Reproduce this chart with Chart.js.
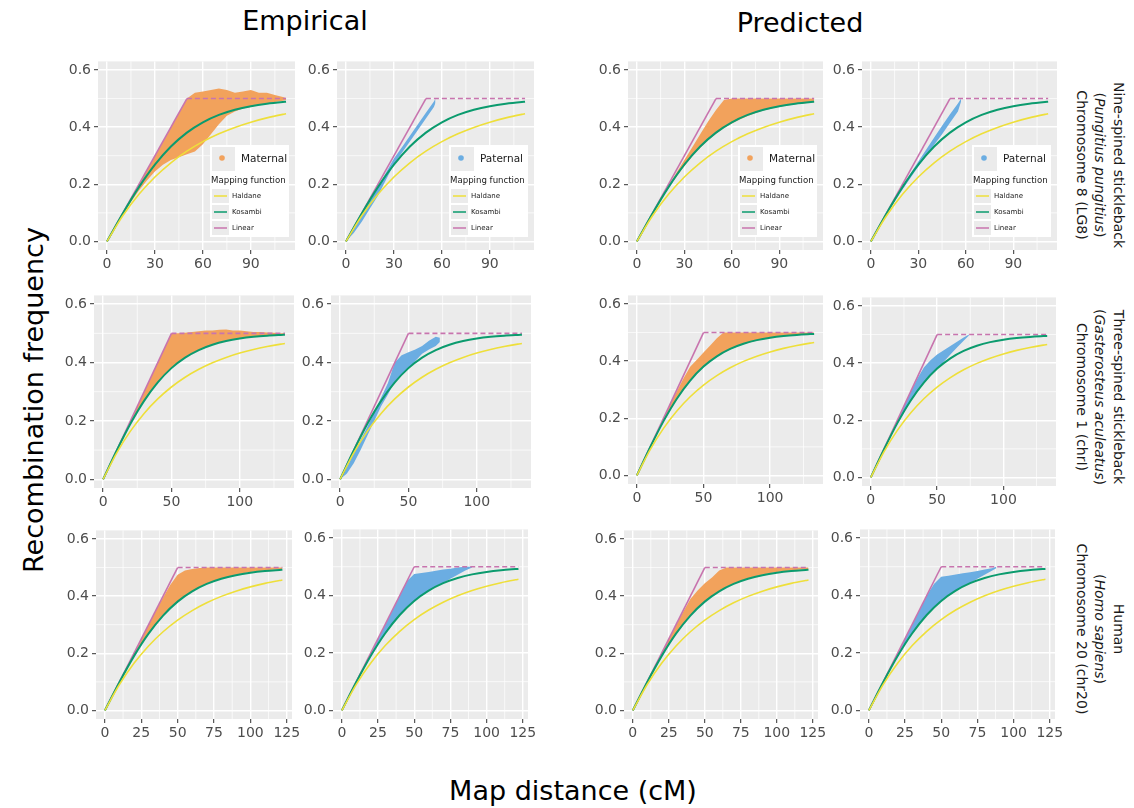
<!DOCTYPE html>
<html>
<head>
<meta charset="utf-8">
<script src="https://cdn.jsdelivr.net/npm/chart.js@4.4.1/dist/chart.umd.min.js"></script>
<style>
  body { margin: 0; width: 1134px; height: 808px; background: #fff; position: relative; overflow: hidden; font-family: "DejaVu Sans", sans-serif; color: #000; }
  .lab { position: absolute; transform: translate(-50%, -50%); white-space: nowrap; }
  .big { font-size: 27px; }
  .strip { position: absolute; transform: translate(-50%, -50%) rotate(90deg); text-align: center; white-space: nowrap; font-size: 14px; line-height: 18.5px; color: #1a1a1a; }
</style>
</head>
<body>
<div class="lab big" style="left:305px;top:20px;">Empirical</div>
<div class="lab big" style="left:800px;top:22px;">Predicted</div>
<div class="lab big" style="left:33px;top:400px;transform:translate(-50%,-50%) rotate(-90deg);">Recombination frequency</div>
<div class="lab big" style="left:573px;top:790px;">Map distance (cM)</div>
<div class="strip" style="left:1100px;top:165px;">Nine-spined stickleback<br>(<i>Pungitius pungitius</i>)<br>Chromosome 8 (LG8)</div>
<div class="strip" style="left:1100px;top:397px;">Three-spined stickleback<br>(<i>Gasterosteus aculeatus</i>)<br>Chromosome 1 (chrI)</div>
<div class="strip" style="left:1100px;top:629px;">Human<br>(<i>Homo sapiens</i>)<br>Chromosome 20 (chr20)</div>
<script>
// mapping functions (cM -> recombination frequency)
const cmRow1 = [0, 10, 20, 30, 40, 50, 60, 70, 80, 90, 100, 110, 112];
const haldaneRow1 = [0, 0.0906, 0.1648, 0.2256, 0.2753, 0.3161, 0.3494, 0.3767, 0.3991, 0.4174, 0.4323, 0.4446, 0.4468];
const kosambiRow1 = [0, 0.0987, 0.1900, 0.2685, 0.3320, 0.3808, 0.4168, 0.4427, 0.4608, 0.4734, 0.4820, 0.4879, 0.4888];
const cmRow2 = [0, 10, 20, 30, 40, 50, 60, 70, 80, 90, 100, 110, 120, 130, 133];
const haldaneRow2 = [0, 0.0906, 0.1648, 0.2256, 0.2753, 0.3161, 0.3494, 0.3767, 0.3991, 0.4174, 0.4323, 0.4446, 0.4546, 0.4629, 0.4650];
const kosambiRow2 = [0, 0.0987, 0.1900, 0.2685, 0.3320, 0.3808, 0.4168, 0.4427, 0.4608, 0.4734, 0.4820, 0.4879, 0.4918, 0.4945, 0.4952];
const cmRow3 = [0, 10, 20, 30, 40, 50, 60, 70, 80, 90, 100, 110, 120, 122];
const haldaneRow3 = [0, 0.0906, 0.1648, 0.2256, 0.2753, 0.3161, 0.3494, 0.3767, 0.3991, 0.4174, 0.4323, 0.4446, 0.4546, 0.4564];
const kosambiRow3 = [0, 0.0987, 0.1900, 0.2685, 0.3320, 0.3808, 0.4168, 0.4427, 0.4608, 0.4734, 0.4820, 0.4879, 0.4918, 0.4925];
const linearCmRow1 = [0, 50, 112];
const linearCmRow2 = [0, 50, 133];
const linearCmRow3 = [0, 50, 122];
const linearRf = [0, 0.5, 0.5];

// ticks
const xTicksRow1 = [0, 30, 60, 90];
const xMinorRow1 = [15, 45, 75, 105];
const xTicksRow2 = [0, 50, 100];
const xMinorRow2 = [25, 75, 125];
const xTicksRow3 = [0, 25, 50, 75, 100, 125];
const xMinorRow3 = [12.5, 37.5, 62.5, 87.5, 112.5];
const yTicks = [0, 0.2, 0.4, 0.6];
const yMinor = [0.1, 0.3, 0.5];

// observed clouds: lower / upper envelope of the individual curves
// nine-spined, empirical maternal
const nineEmpMatCm = [0, 5, 10, 15, 20, 25, 30, 35, 40, 45, 50, 55, 60, 65, 70, 75, 80, 85, 90, 95, 100, 105, 110, 112];
const nineEmpMatLo = [0, 0.047, 0.093, 0.138, 0.178, 0.213, 0.245, 0.268, 0.285, 0.295, 0.305, 0.315, 0.34, 0.375, 0.41, 0.44, 0.455, 0.465, 0.47, 0.478, 0.483, 0.488, 0.492, 0.495];
const nineEmpMatHi = [0, 0.05, 0.1, 0.15, 0.2, 0.25, 0.3, 0.35, 0.4, 0.45, 0.5, 0.52, 0.525, 0.53, 0.535, 0.53, 0.52, 0.525, 0.53, 0.52, 0.52, 0.512, 0.505, 0.502];
// nine-spined, empirical paternal
const nineEmpPatCm = [0, 5, 10, 15, 20, 25, 30, 35, 40, 45, 50, 55, 56];
const nineEmpPatLo = [0, 0.03, 0.07, 0.115, 0.16, 0.215, 0.27, 0.31, 0.35, 0.39, 0.43, 0.47, 0.485];
const nineEmpPatHi = [0, 0.05, 0.095, 0.14, 0.19, 0.24, 0.29, 0.33, 0.37, 0.41, 0.45, 0.49, 0.5];
// nine-spined, predicted maternal
const ninePreMatCm = [0, 5, 10, 15, 20, 25, 30, 35, 40, 45, 50, 55, 60, 65, 70, 75, 80, 85, 90, 95, 100, 105, 110, 112];
const ninePreMatLo = [0, 0.048, 0.097, 0.143, 0.186, 0.227, 0.264, 0.298, 0.328, 0.354, 0.377, 0.397, 0.413, 0.427, 0.439, 0.449, 0.458, 0.465, 0.471, 0.476, 0.48, 0.483, 0.486, 0.487];
const ninePreMatHi = [0, 0.05, 0.1, 0.15, 0.195, 0.24, 0.285, 0.33, 0.375, 0.42, 0.46, 0.495, 0.5, 0.5, 0.5, 0.5, 0.5, 0.5, 0.5, 0.5, 0.5, 0.5, 0.5, 0.5];
// nine-spined, predicted paternal
const ninePrePatCm = [0, 5, 10, 15, 20, 25, 30, 35, 40, 45, 50, 55, 57];
const ninePrePatLo = [0, 0.048, 0.095, 0.14, 0.182, 0.222, 0.262, 0.3, 0.338, 0.375, 0.415, 0.455, 0.49];
const ninePrePatHi = [0, 0.05, 0.1, 0.147, 0.193, 0.237, 0.28, 0.322, 0.364, 0.405, 0.445, 0.483, 0.5];
// three-spined, empirical maternal
const threeEmpMatCm = [0, 5, 10, 15, 20, 25, 30, 35, 40, 45, 50, 55, 60, 65, 70, 75, 80, 85, 90, 95, 100, 105, 110, 115, 120, 125, 130, 133];
const threeEmpMatLo = [0, 0.0498, 0.0987, 0.1457, 0.19, 0.2311, 0.2685, 0.3022, 0.332, 0.3582, 0.3808, 0.4002, 0.4168, 0.4309, 0.4427, 0.4526, 0.4608, 0.4677, 0.4734, 0.4781, 0.482, 0.4852, 0.4879, 0.4901, 0.4918, 0.4933, 0.4945, 0.4952];
const threeEmpMatHi = [0, 0.05, 0.1, 0.15, 0.2, 0.25, 0.3, 0.35, 0.4, 0.45, 0.5, 0.5, 0.502, 0.505, 0.507, 0.51, 0.51, 0.512, 0.513, 0.51, 0.51, 0.507, 0.505, 0.505, 0.503, 0.502, 0.5, 0.5];
// three-spined, empirical paternal
const threeEmpPatCm = [0, 5, 10, 15, 20, 25, 30, 35, 40, 45, 50, 55, 60, 65, 70, 73];
const threeEmpPatLo = [0, 0.02, 0.055, 0.1, 0.15, 0.2, 0.25, 0.29, 0.335, 0.36, 0.378, 0.405, 0.43, 0.445, 0.457, 0.47];
const threeEmpPatHi = [0, 0.04, 0.09, 0.135, 0.18, 0.23, 0.28, 0.33, 0.4, 0.425, 0.435, 0.445, 0.457, 0.475, 0.488, 0.485];
// three-spined, predicted maternal
const threePreMatCm = [0, 5, 10, 15, 20, 25, 30, 35, 40, 45, 50, 55, 60, 65, 70, 75, 80, 85, 90, 95, 100, 105, 110, 115, 120, 125, 130, 133];
const threePreMatLo = [0, 0.049, 0.097, 0.144, 0.188, 0.229, 0.266, 0.3, 0.33, 0.356, 0.379, 0.399, 0.415, 0.429, 0.441, 0.451, 0.459, 0.466, 0.472, 0.477, 0.481, 0.484, 0.487, 0.489, 0.491, 0.492, 0.494, 0.495];
const threePreMatHi = [0, 0.05, 0.1, 0.15, 0.2, 0.25, 0.295, 0.34, 0.38, 0.405, 0.43, 0.455, 0.48, 0.5, 0.5, 0.5, 0.5, 0.5, 0.5, 0.5, 0.5, 0.5, 0.5, 0.5, 0.5, 0.5, 0.5, 0.5];
// three-spined, predicted paternal
const threePrePatCm = [0, 5, 10, 15, 20, 25, 30, 35, 40, 45, 50, 55, 60, 65, 70, 74];
const threePrePatLo = [0, 0.049, 0.097, 0.144, 0.188, 0.229, 0.266, 0.3, 0.33, 0.356, 0.379, 0.405, 0.43, 0.455, 0.478, 0.497];
const threePrePatHi = [0, 0.05, 0.1, 0.15, 0.2, 0.25, 0.3, 0.345, 0.385, 0.41, 0.43, 0.445, 0.46, 0.475, 0.49, 0.5];
// human, empirical maternal
const humanEmpMatCm = [0, 5, 10, 15, 20, 25, 30, 35, 40, 45, 50, 55, 60, 65, 70, 75, 80, 85, 90, 95, 100, 105, 110, 115, 120, 122];
const humanEmpMatLo = [0, 0.049, 0.098, 0.145, 0.189, 0.23, 0.267, 0.301, 0.331, 0.357, 0.38, 0.4, 0.417, 0.432, 0.444, 0.454, 0.462, 0.469, 0.475, 0.48, 0.484, 0.487, 0.49, 0.492, 0.494, 0.495];
const humanEmpMatHi = [0, 0.05, 0.1, 0.15, 0.2, 0.25, 0.3, 0.35, 0.395, 0.44, 0.475, 0.49, 0.495, 0.498, 0.5, 0.5, 0.5, 0.5, 0.5, 0.5, 0.5, 0.5, 0.5, 0.5, 0.5, 0.5];
// human, empirical paternal
const humanEmpPatCm = [0, 5, 10, 15, 20, 25, 30, 35, 40, 45, 50, 55, 60, 65, 70, 75, 80, 85, 90];
const humanEmpPatLo = [0, 0.049, 0.098, 0.145, 0.189, 0.23, 0.267, 0.301, 0.331, 0.357, 0.38, 0.4, 0.417, 0.432, 0.444, 0.458, 0.472, 0.486, 0.497];
const humanEmpPatHi = [0, 0.05, 0.1, 0.15, 0.2, 0.25, 0.3, 0.35, 0.4, 0.45, 0.475, 0.478, 0.482, 0.486, 0.49, 0.493, 0.497, 0.5, 0.5];
// human, predicted maternal
const humanPreMatCm = [0, 5, 10, 15, 20, 25, 30, 35, 40, 45, 50, 55, 60, 65, 70, 75, 80, 85, 90, 95, 100, 105, 110, 115, 120, 122];
const humanPreMatLo = [0, 0.049, 0.098, 0.145, 0.189, 0.23, 0.267, 0.301, 0.331, 0.357, 0.38, 0.4, 0.417, 0.432, 0.444, 0.454, 0.462, 0.469, 0.475, 0.48, 0.484, 0.487, 0.49, 0.492, 0.494, 0.495];
const humanPreMatHi = [0, 0.05, 0.1, 0.15, 0.2, 0.25, 0.3, 0.345, 0.39, 0.42, 0.445, 0.465, 0.49, 0.5, 0.5, 0.5, 0.5, 0.5, 0.5, 0.5, 0.5, 0.5, 0.5, 0.5, 0.5, 0.5];
// human, predicted paternal
const humanPrePatCm = [0, 5, 10, 15, 20, 25, 30, 35, 40, 45, 50, 55, 60, 65, 70, 75, 80, 85, 88];
const humanPrePatLo = [0, 0.049, 0.098, 0.145, 0.189, 0.23, 0.267, 0.301, 0.331, 0.357, 0.38, 0.4, 0.417, 0.432, 0.444, 0.458, 0.472, 0.486, 0.495];
const humanPrePatHi = [0, 0.05, 0.1, 0.15, 0.2, 0.25, 0.3, 0.35, 0.4, 0.44, 0.465, 0.469, 0.473, 0.477, 0.481, 0.485, 0.49, 0.495, 0.5];

const ORANGE = '#F2A25C';
const BLUE = '#6BADE2';

const rows = [
  { cm: cmRow1, haldane: haldaneRow1, kosambi: kosambiRow1, linCm: linearCmRow1, xTicks: xTicksRow1, xMinor: xMinorRow1, xMin: -5.6, xMax: 117.6 },
  { cm: cmRow2, haldane: haldaneRow2, kosambi: kosambiRow2, linCm: linearCmRow2, xTicks: xTicksRow2, xMinor: xMinorRow2, xMin: -6.65, xMax: 139.65 },
  { cm: cmRow3, haldane: haldaneRow3, kosambi: kosambiRow3, linCm: linearCmRow3, xTicks: xTicksRow3, xMinor: xMinorRow3, xMin: -6.1, xMax: 128.6 }
];

// box = gray panel [left, top, right, bottom] in page pixels
const panels = [
  { row: 0, box: [98, 58, 295, 250], cm: nineEmpMatCm, lo: nineEmpMatLo, hi: nineEmpMatHi, parent: 'Maternal', color: ORANGE, legend: true },
  { row: 0, box: [337, 58, 534, 250], cm: nineEmpPatCm, lo: nineEmpPatLo, hi: nineEmpPatHi, parent: 'Paternal', color: BLUE, legend: true },
  { row: 0, box: [628, 58, 823, 250], cm: ninePreMatCm, lo: ninePreMatLo, hi: ninePreMatHi, parent: 'Maternal', color: ORANGE, legend: true },
  { row: 0, box: [862, 58, 1057, 250], cm: ninePrePatCm, lo: ninePrePatLo, hi: ninePrePatHi, parent: 'Paternal', color: BLUE, legend: true },
  { row: 1, box: [94, 292, 294, 488], cm: threeEmpMatCm, lo: threeEmpMatLo, hi: threeEmpMatHi, parent: 'Maternal', color: ORANGE },
  { row: 1, box: [331, 292, 531, 488], cm: threeEmpPatCm, lo: threeEmpPatLo, hi: threeEmpPatHi, parent: 'Paternal', color: BLUE },
  { row: 1, box: [628, 292, 823, 484], cm: threePreMatCm, lo: threePreMatLo, hi: threePreMatHi, parent: 'Maternal', color: ORANGE },
  { row: 1, box: [862, 294, 1056, 486], cm: threePrePatCm, lo: threePrePatLo, hi: threePrePatHi, parent: 'Paternal', color: BLUE },
  { row: 2, box: [96, 527, 292, 719], cm: humanEmpMatCm, lo: humanEmpMatLo, hi: humanEmpMatHi, parent: 'Maternal', color: ORANGE },
  { row: 2, box: [333, 526, 528, 719], cm: humanEmpPatCm, lo: humanEmpPatLo, hi: humanEmpPatHi, parent: 'Paternal', color: BLUE },
  { row: 2, box: [624, 527, 818, 719], cm: humanPreMatCm, lo: humanPreMatLo, hi: humanPreMatHi, parent: 'Maternal', color: ORANGE },
  { row: 2, box: [860, 526, 1055, 719], cm: humanPrePatCm, lo: humanPrePatLo, hi: humanPrePatHi, parent: 'Paternal', color: BLUE }
];

Chart.defaults.font.family = '"DejaVu Sans", sans-serif';

// ggplot-like gray panel with minor grid
const panelBg = {
  id: 'panelBg',
  beforeDraw(chart, args, opts) {
    const { ctx, chartArea: a, scales: { x, y } } = chart;
    ctx.save();
    ctx.fillStyle = '#EBEBEB';
    ctx.fillRect(a.left, a.top, a.width, a.height);
    ctx.strokeStyle = '#FFFFFF';
    ctx.lineWidth = 0.7;
    ctx.beginPath();
    opts.xMinor.forEach(v => {
      const px = x.getPixelForValue(v);
      ctx.moveTo(px, a.top); ctx.lineTo(px, a.bottom);
    });
    opts.yMinor.forEach(v => {
      const py = y.getPixelForValue(v);
      ctx.moveTo(a.left, py); ctx.lineTo(a.right, py);
    });
    ctx.stroke();
    ctx.restore();
  }
};

// the inset legend (parent + mapping function)
const ggLegend = {
  id: 'ggLegend',
  afterDatasetsDraw(chart, args, opts) {
    if (!opts.label) return;
    const { ctx, chartArea: { right: r, bottom: b } } = chart;
    const left = r - 85;
    ctx.save();
    ctx.fillStyle = '#FFFFFF';
    ctx.fillRect(left, b - 105, 79, 92);
    ctx.fillStyle = '#EBEBEB';
    ctx.fillRect(left + 2, b - 103, 23, 24);
    ctx.fillStyle = opts.color;
    ctx.beginPath();
    ctx.arc(left + 12, b - 92, 2.8, 0, Math.PI * 2);
    ctx.fill();
    ctx.fillStyle = '#1A1A1A';
    ctx.textBaseline = 'middle';
    ctx.font = '10.5px "DejaVu Sans"';
    ctx.fillText(opts.label, left + 31, b - 91);
    ctx.font = '8.6px "DejaVu Sans"';
    ctx.fillText('Mapping function', left + 1, b - 69);
    chart.data.datasets.slice(0, 3).forEach((d, i) => {
      const yy = b - 54 + 16 * i;
      ctx.fillStyle = '#EBEBEB';
      ctx.fillRect(left + 2, yy - 7, 17, 14);
      ctx.strokeStyle = d.borderColor;
      ctx.lineWidth = 1.5;
      ctx.beginPath();
      ctx.moveTo(left + 4, yy); ctx.lineTo(left + 17, yy);
      ctx.stroke();
      ctx.fillStyle = '#1A1A1A';
      ctx.font = '7px "DejaVu Sans"';
      ctx.fillText(d.label, left + 22, yy);
    });
    ctx.restore();
  }
};

const pts = (xs, ys) => xs.map((x, i) => ({ x: x, y: ys[i] }));

function makePanel(p) {
  const [L, T, R, B] = p.box;
  const yAxisW = 38, xAxisH = 26, padTop = 8, padRight = 16;
  const row = rows[p.row];
  const canvas = document.createElement('canvas');
  canvas.width = R - L + yAxisW + padRight;
  canvas.height = B - T + xAxisH + padTop;
  canvas.style.cssText = 'position:absolute;left:' + (L - yAxisW) + 'px;top:' + (T - padTop) + 'px;';
  document.body.appendChild(canvas);

  const tickFont = { size: 14 };
  new Chart(canvas, {
    type: 'line',
    data: {
      datasets: [
        { label: 'Haldane', data: pts(row.cm, row.haldane), borderColor: '#EEDF3A', borderWidth: 1.6, cubicInterpolationMode: 'monotone', order: 0 },
        { label: 'Kosambi', data: pts(row.cm, row.kosambi), borderColor: '#0B9B6E', borderWidth: 2, cubicInterpolationMode: 'monotone', order: 0 },
        { label: 'Linear', data: pts(row.linCm, linearRf), borderColor: '#C874AE', borderWidth: 1.6, order: 0,
          segment: { borderDash: c => c.p0.parsed.x >= 50 ? [5, 3] : undefined } },
        { label: 'low', data: pts(p.cm, p.lo), borderColor: 'rgba(0,0,0,0)', borderWidth: 0, fill: false, order: 2 },
        { label: p.parent, data: pts(p.cm, p.hi), borderColor: 'rgba(0,0,0,0)', borderWidth: 0, fill: '-1', backgroundColor: p.color, order: 1 }
      ]
    },
    options: {
      responsive: false,
      animation: false,
      events: [],
      layout: { padding: { top: padTop, right: padRight, left: 0, bottom: 0 } },
      elements: { point: { radius: 0 } },
      plugins: {
        legend: { display: false },
        tooltip: { enabled: false },
        panelBg: { xMinor: row.xMinor, yMinor: yMinor },
        ggLegend: p.legend ? { label: p.parent, color: p.color } : {}
      },
      scales: {
        x: {
          type: 'linear', min: row.xMin, max: row.xMax,
          afterBuildTicks: s => { s.ticks = row.xTicks.map(v => ({ value: v })); },
          afterFit: s => { s.height = xAxisH; },
          border: { display: false },
          grid: { color: '#FFFFFF', lineWidth: 1.4, tickColor: '#333333', tickLength: 4, tickWidth: 1 },
          ticks: { font: tickFont, color: '#4D4D4D', padding: 2, maxRotation: 0, callback: v => String(v) }
        },
        y: {
          type: 'linear', min: -0.03, max: 0.63,
          afterBuildTicks: s => { s.ticks = yTicks.map(v => ({ value: v })); },
          afterFit: s => { s.width = yAxisW; },
          border: { display: false },
          grid: { color: '#FFFFFF', lineWidth: 1.4, tickColor: '#333333', tickLength: 4, tickWidth: 1 },
          ticks: { font: tickFont, color: '#4D4D4D', padding: 3, callback: v => v.toFixed(1) }
        }
      }
    },
    plugins: [panelBg, ggLegend]
  });
}

panels.forEach(makePanel);
</script>
</body>
</html>
